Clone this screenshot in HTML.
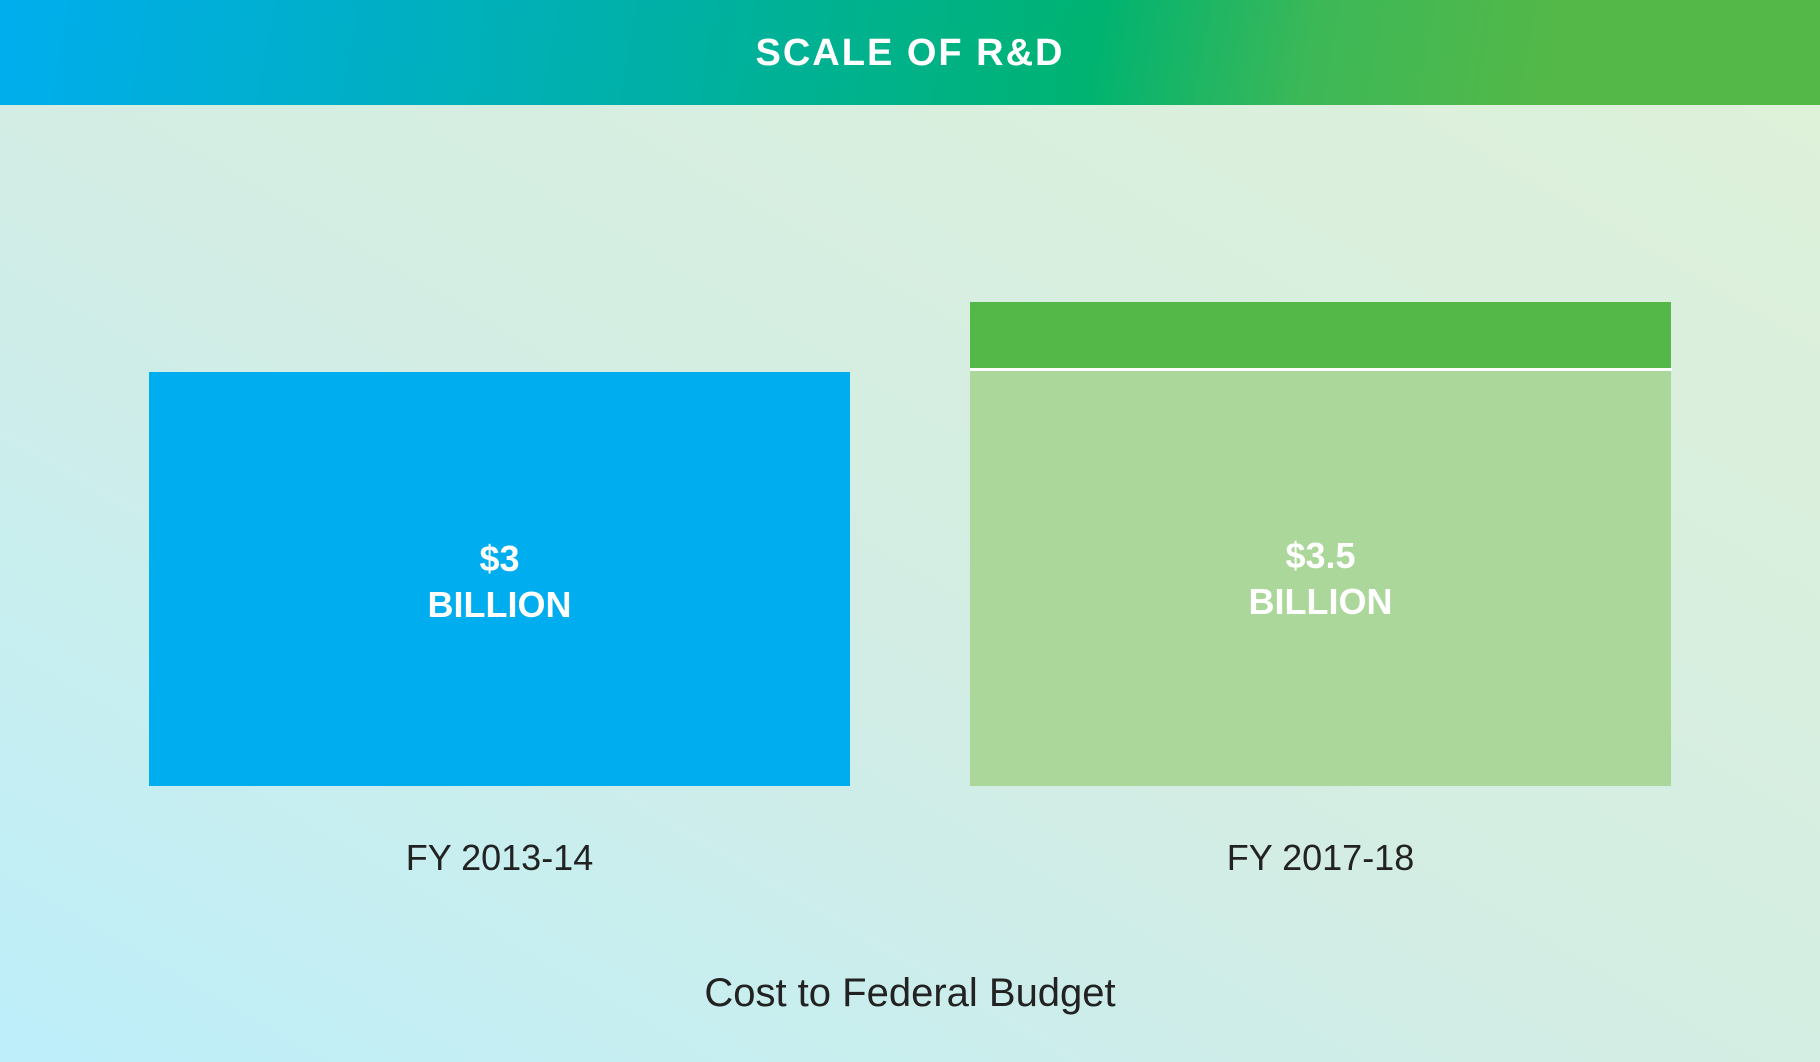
<!DOCTYPE html>
<html><head><meta charset="utf-8"><style>
html,body{margin:0;padding:0;}
body{width:1820px;height:1062px;position:relative;overflow:hidden;font-family:"Liberation Sans",sans-serif;
background:linear-gradient(to top right,#bdeefa 0%,#d3ede4 45%,#dff2d8 100%);}
.hdr{position:absolute;left:0;top:0;width:1820px;height:105px;
background:linear-gradient(100deg,#00aeef 0%,#00b0a8 35%,#00b371 60%,#3db857 72%,#53b848 85%,#53b848 100%);}
.hdr div{position:absolute;left:0;width:100%;top:32px;text-align:center;color:#fff;font-weight:bold;font-size:38px;letter-spacing:2px;}
.bar{position:absolute;}
.lbl{position:absolute;text-align:center;color:#fff;font-weight:bold;font-size:36px;line-height:46px;}
.ax{position:absolute;text-align:center;color:#222;font-size:36px;}
</style></head><body>
<div class="hdr"><div>SCALE OF R&amp;D</div></div>
<div class="bar" style="left:149px;top:372px;width:701px;height:414px;background:#00aeef"></div>
<div class="lbl" style="left:149px;width:701px;top:536px">$3<br>BILLION</div>
<div class="bar" style="left:970px;top:302px;width:701px;height:66px;background:#53b848"></div>
<div class="bar" style="left:970px;top:368px;width:702px;height:3px;background:#fff"></div>
<div class="bar" style="left:970px;top:371px;width:701px;height:415px;background:#acd79a"></div>
<div class="lbl" style="left:970px;width:701px;top:533px">$3.5<br>BILLION</div>
<div class="ax" style="left:149px;width:701px;top:837px">FY 2013-14</div>
<div class="ax" style="left:970px;width:701px;top:837px">FY 2017-18</div>
<div class="ax" style="left:0;width:1820px;top:971px;font-size:40px">Cost to Federal Budget</div>
</body></html>
